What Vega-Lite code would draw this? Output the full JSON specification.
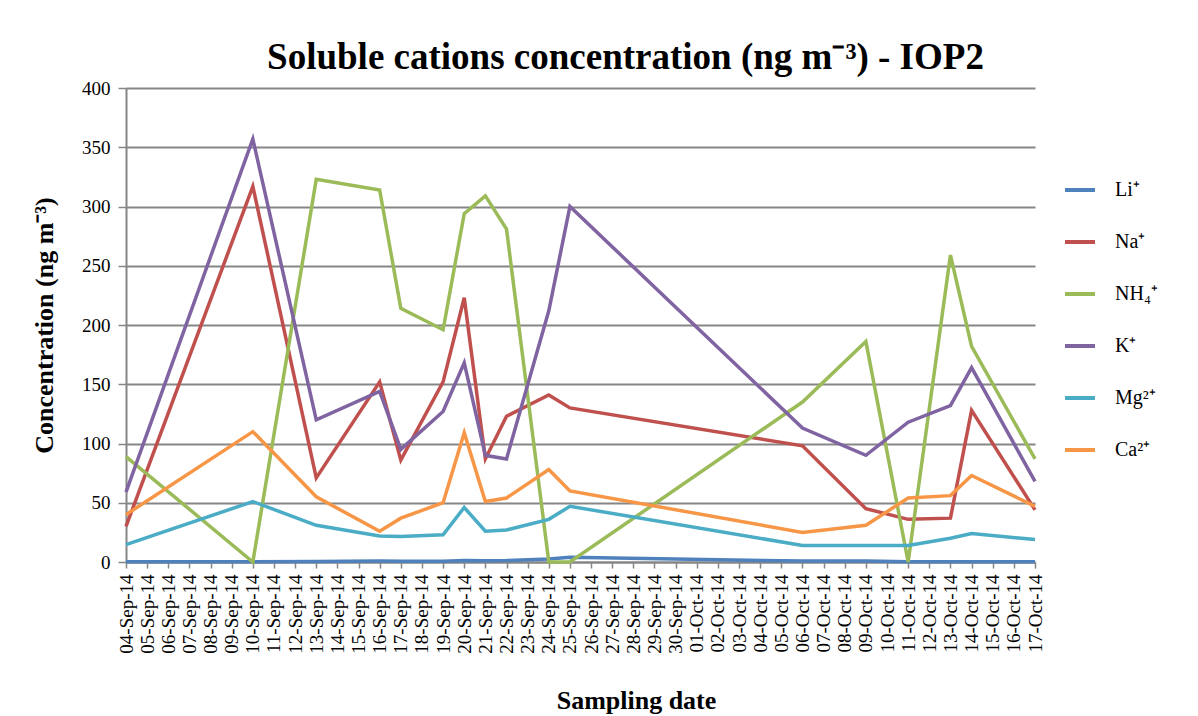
{
  "$schema": "https://vega.github.io/schema/vega-lite/v6.json",
  "width": 909,
  "height": 474,
  "autosize": {"type": "none"},
  "padding": {"left": 126, "top": 88, "right": 163, "bottom": 154},
  "background": "white",
  "title": {
    "text": "Soluble cations concentration (ng m⁻³) - IOP2",
    "font": "Liberation Serif",
    "fontSize": 37,
    "fontWeight": "bold",
    "color": "#000000",
    "anchor": "middle",
    "frame": "group",
    "dx": 45,
    "offset": 2
  },
  "data": {
    "values": [
      {"date": "2014-09-04", "Li": 0.2, "Na": 30, "NH4": 89, "K": 59, "Mg": 14.6, "Ca": 40},
      {"date": "2014-09-10", "Li": 0.3, "Na": 317, "NH4": 0, "K": 357, "Mg": 51, "Ca": 110},
      {"date": "2014-09-13", "Li": 0.5, "Na": 71, "NH4": 323, "K": 120, "Mg": 31, "Ca": 55},
      {"date": "2014-09-16", "Li": 0.8, "Na": 152, "NH4": 314, "K": 144, "Mg": 22, "Ca": 26},
      {"date": "2014-09-17", "Li": 0.6, "Na": 86, "NH4": 214, "K": 95, "Mg": 21.5, "Ca": 37},
      {"date": "2014-09-19", "Li": 0.6, "Na": 152, "NH4": 196, "K": 127, "Mg": 23, "Ca": 50},
      {"date": "2014-09-20", "Li": 1.2, "Na": 223, "NH4": 294, "K": 168, "Mg": 46, "Ca": 109},
      {"date": "2014-09-21", "Li": 1.0, "Na": 87, "NH4": 309, "K": 90, "Mg": 26, "Ca": 51},
      {"date": "2014-09-22", "Li": 1.2, "Na": 123, "NH4": 281, "K": 87, "Mg": 27, "Ca": 54},
      {"date": "2014-09-24", "Li": 2.5, "Na": 141, "NH4": 0, "K": 212, "Mg": 36, "Ca": 78},
      {"date": "2014-09-25", "Li": 4.0, "Na": 130, "NH4": 0, "K": 300, "Mg": 47, "Ca": 60},
      {"date": "2014-10-06", "Li": 0.8, "Na": 98, "NH4": 135, "K": 113, "Mg": 14, "Ca": 25},
      {"date": "2014-10-09", "Li": 0.8, "Na": 45, "NH4": 186, "K": 90, "Mg": 14, "Ca": 31},
      {"date": "2014-10-11", "Li": 0.3, "Na": 36, "NH4": 0, "K": 118, "Mg": 14, "Ca": 54},
      {"date": "2014-10-13", "Li": 0.3, "Na": 37, "NH4": 259, "K": 132, "Mg": 20, "Ca": 56},
      {"date": "2014-10-14", "Li": 0.3, "Na": 128, "NH4": 182, "K": 164, "Mg": 24, "Ca": 73},
      {"date": "2014-10-17", "Li": 0.3, "Na": 44, "NH4": 87, "K": 68, "Mg": 19, "Ca": 47}
    ]
  },
  "transform": [
    {"fold": ["Li", "Na", "NH4", "K", "Mg", "Ca"], "as": ["ion", "value"]}
  ],
  "mark": {"type": "line", "strokeWidth": 3.5, "strokeJoin": "miter", "clip": false},
  "encoding": {
    "x": {
      "field": "date",
      "type": "temporal",
      "scale": {
        "type": "utc",
        "domain": [
          {"year": 2014, "month": 9, "date": 4, "utc": true},
          {"year": 2014, "month": 10, "date": 17, "utc": true}
        ],
        "nice": false
      },
      "axis": {
        "title": "Sampling date",
        "tickCount": {"interval": "day", "step": 1},
        "format": "%d-%b-%y",
        "labelAngle": 270,
        "labelOverlap": false,
        "labelFlush": false,
        "labelFont": "Liberation Serif",
        "labelFontSize": 19,
        "labelColor": "#000000",
        "labelPadding": 6,
        "tickSize": 6,
        "tickColor": "#868686",
        "tickWidth": 1.5,
        "domainColor": "#868686",
        "domainWidth": 2,
        "grid": false,
        "titleFont": "Liberation Serif",
        "titleFontSize": 26,
        "titleFontWeight": "bold",
        "titleColor": "#000000",
        "titleX": 510,
        "titleY": 138,
        "titleBaseline": "middle",
        "titleAlign": "center"
      }
    },
    "y": {
      "field": "value",
      "type": "quantitative",
      "scale": {"domain": [0, 400], "nice": false},
      "axis": {
        "title": "Concentration (ng m⁻³)",
        "values": [0, 50, 100, 150, 200, 250, 300, 350, 400],
        "labelFont": "Liberation Serif",
        "labelFontSize": 19,
        "labelColor": "#000000",
        "labelPadding": 8,
        "tickSize": 8,
        "tickColor": "#868686",
        "tickWidth": 1.5,
        "domainColor": "#868686",
        "domainWidth": 2,
        "grid": true,
        "gridColor": "#868686",
        "gridWidth": 2,
        "titleFont": "Liberation Serif",
        "titleFontSize": 26,
        "titleFontWeight": "bold",
        "titleColor": "#000000",
        "titleAngle": 270,
        "titleX": -82,
        "titleY": 237,
        "titleBaseline": "middle",
        "titleAlign": "center"
      }
    },
    "color": {
      "field": "ion",
      "type": "nominal",
      "sort": ["Li", "Na", "NH4", "K", "Mg", "Ca"],
      "scale": {
        "domain": ["Li", "Na", "NH4", "K", "Mg", "Ca"],
        "range": ["#4F81BD", "#C0504D", "#9BBB59", "#8064A2", "#4BACC6", "#F79646"]
      },
      "legend": {
        "title": null,
        "orient": "none",
        "legendX": 937,
        "legendY": 85,
        "symbolType": "stroke",
        "symbolSize": 900,
        "symbolStrokeWidth": 4,
        "rowPadding": 25,
        "labelFont": "Liberation Serif",
        "labelFontSize": 20,
        "labelColor": "#000000",
        "labelOffset": 18,
        "labelExpr": "datum.label == 'Li' ? 'Li⁺' : datum.label == 'Na' ? 'Na⁺' : datum.label == 'NH4' ? 'NH₄⁺' : datum.label == 'K' ? 'K⁺' : datum.label == 'Mg' ? 'Mg²⁺' : 'Ca²⁺'"
      }
    }
  },
  "config": {
    "view": {"stroke": null},
    "font": "Liberation Serif"
  }
}
